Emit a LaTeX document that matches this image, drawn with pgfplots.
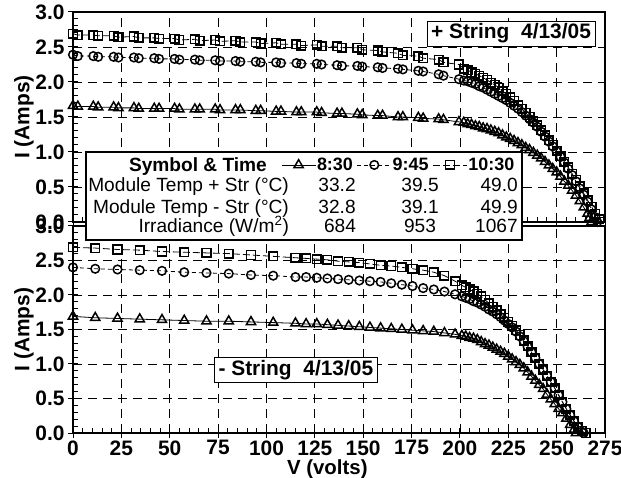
\documentclass[border=0pt]{standalone}
\usepackage{fontspec}
\setmainfont{Liberation Sans}
\usepackage{pgfplots}
\pgfplotsset{compat=1.18}

\newcommand{\tabfont}{\fontsize{19.2}{20}\selectfont}
\newcommand{\boxfont}{\fontsize{21}{22}\selectfont\bfseries}

\pgfplotsset{
  ivax/.style={
    scale only axis, width=532bp,
    xmin=0, xmax=275, ymin=0, ymax=3,
    xtick={0,25,...,275}, ytick={0,0.5,...,3},
    minor x tick num=4, minor y tick num=4,
    xtick pos=left, ytick pos=left,
    tick align=center,
    major tick length=10bp, minor tick length=5bp,
    minor x tick style={yshift=2.5bp},
    minor y tick style={xshift=2.5bp},
    tick style={black, line width=1bp},
    grid=major,
    major grid style={black, line width=0.8bp, dash pattern=on 9bp off 6bp},
    axis line style={black, line width=2bp},
    /pgf/number format/assume math mode=true,
    ticklabel style={font=\fontsize{21}{21}\selectfont\bfseries},
    yticklabel style={/pgf/number format/.cd, fixed, fixed zerofill, precision=1},
    xticklabel style={yshift=1bp},
    ylabel={I (Amps)},
    every axis y label/.style={at={(axis description cs:-0.092,0.5)}, rotate=90, anchor=center, font=\boxfont},
    clip=false,
  },
  tri/.style={black, line width=0.8bp, mark=triangle, mark size=5.3bp, mark options={solid, line width=1.5bp}},
  circ/.style={black, line width=0.8bp, dash pattern=on 4bp off 3bp, mark=o, mark size=4.3bp, mark options={solid, line width=1.5bp}},
  sq/.style={black, line width=0.8bp, dash pattern=on 7bp off 3bp, mark=square, mark size=4.3bp, mark options={solid, line width=1.5bp}},
}

\begin{document}
\begin{tikzpicture}
\useasboundingbox (0,0) rectangle (621bp,478bp);

% + string
\begin{axis}[ivax, at={(73bp,256bp)}, anchor=south west, height=210bp, xticklabels={}]
\addplot[tri] coordinates {
(0,1.66) (2.5,1.65) (10.5,1.65) (13,1.64) (21,1.64) (23.5,1.63) (31.5,1.63) (34,1.62) (42,1.62) (44.5,1.62)
(52.5,1.62) (55,1.61) (63,1.61) (65.5,1.61) (73.5,1.61) (76,1.60) (84,1.60) (86.5,1.60) (94.5,1.59) (97,1.59)
(105,1.58) (107.5,1.58) (115.5,1.57) (118,1.57) (126,1.57) (128.5,1.56) (136.5,1.55) (139,1.55) (147,1.54) (149.5,1.53)
(157.5,1.52) (160,1.52) (168,1.50) (170.5,1.50) (178.5,1.49) (181,1.48) (189,1.47) (191.5,1.46) (199.5,1.43) (202,1.42)
(204,1.40) (206,1.39) (208,1.37) (210,1.36) (212,1.34) (214,1.33) (216,1.31) (218,1.29) (220,1.27) (222,1.24)
(224,1.21) (226,1.19) (228,1.16) (230,1.13) (232,1.10) (234,1.06) (236,1.03) (238,0.99) (240,0.95) (242,0.91)
(244,0.86) (246,0.81) (248,0.76) (250,0.71) (252,0.65) (254,0.58) (256,0.52) (258,0.45) (260,0.38) (262,0.30)
(264,0.21) (266,0.12) (267,0.06) (268,0)};
\addplot[circ] coordinates {
(0,2.39) (2.5,2.37) (10.5,2.37) (13,2.36) (21,2.36) (23.5,2.35) (31.5,2.35) (34,2.34) (42,2.34) (44.5,2.33)
(52.5,2.33) (55,2.32) (63,2.32) (65.5,2.31) (73.5,2.31) (76,2.30) (84,2.30) (86.5,2.29) (94.5,2.29) (97,2.28)
(105,2.28) (107.5,2.27) (115.5,2.27) (118,2.26) (126,2.26) (128.5,2.25) (136.5,2.24) (139,2.23) (147,2.23) (149.5,2.22)
(157.5,2.21) (160,2.20) (168,2.19) (170.5,2.18) (178.5,2.16) (181,2.15) (189,2.11) (191.5,2.09) (199.5,2.04) (202,2.02)
(204,2.01) (206,1.99) (208,1.97) (210,1.94) (212,1.92) (214,1.89) (216,1.86) (218,1.83) (220,1.80) (222,1.77)
(224,1.74) (226,1.70) (228,1.66) (230,1.62) (232,1.57) (234,1.52) (236,1.47) (238,1.42) (240,1.36) (242,1.29)
(244,1.22) (246,1.15) (248,1.08) (250,1.01) (252,0.93) (254,0.85) (256,0.76) (258,0.67) (260,0.58) (262,0.48)
(264,0.39) (266,0.29) (268,0.18) (270,0.07) (271,0)};
\addplot[sq] coordinates {
(0,2.69) (2.5,2.67) (10.5,2.67) (13,2.66) (21,2.66) (23.5,2.64) (31.5,2.65) (34,2.63) (42,2.63) (44.5,2.62)
(52.5,2.62) (55,2.60) (63,2.61) (65.5,2.59) (73.5,2.60) (76,2.58) (84,2.59) (86.5,2.57) (94.5,2.57) (97,2.55)
(105,2.56) (107.5,2.54) (115.5,2.54) (118,2.52) (126,2.53) (128.5,2.51) (136.5,2.51) (139,2.49) (147,2.49) (149.5,2.46)
(157.5,2.45) (160,2.43) (168,2.41) (170.5,2.38) (178.5,2.37) (181,2.34) (189,2.32) (191.5,2.28) (199.5,2.25) (202,2.19)
(204,2.17) (206,2.14) (208,2.12) (210,2.09) (212,2.06) (214,2.03) (216,1.99) (218,1.96) (220,1.92) (222,1.87)
(224,1.83) (226,1.78) (228,1.73) (230,1.67) (232,1.62) (234,1.56) (236,1.50) (238,1.44) (240,1.38) (242,1.31)
(244,1.24) (246,1.17) (248,1.10) (250,1.02) (252,0.94) (254,0.86) (256,0.78) (258,0.69) (260,0.60) (262,0.51)
(264,0.41) (266,0.31) (268,0.22) (270,0.12) (272,0.04) (273,0)};
\node[draw, fill=white, line width=0.8bp, font=\boxfont, inner xsep=4bp, inner ysep=3bp, text height=15bp, text depth=4bp]
  at (axis cs:226.4,2.693) {+ String\ \ 4/13/05};
\end{axis}

% - string
\begin{axis}[ivax, at={(73bp,45bp)}, anchor=south west, height=207bp,
  xlabel={V (volts)},
  every axis x label/.style={at={(axis description cs:0.478,0)}, anchor=base, yshift=-41.5bp, font=\fontsize{20.5}{21}\selectfont\bfseries},
  legend columns=3,
  legend cell align=left,
  legend image code/.code={\draw[mark repeat=2,mark phase=2,#1] plot coordinates {(0bp,0bp)(17bp,0bp)(34bp,0bp)};},
  legend style={at={(0.391,1.295)}, anchor=west, draw=none, fill=none,
    font=\fontsize{18}{18}\selectfont\bfseries, inner xsep=0pt, inner ysep=0pt,
    nodes={inner xsep=1bp, inner ysep=1bp},
    /tikz/every even column/.append style={column sep=3bp}},
]
\addplot[tri] coordinates {
(0,1.69) (11.5,1.67) (23,1.66) (34.5,1.65) (46,1.64) (57.5,1.63) (69,1.62) (80.5,1.62) (92,1.61) (103.5,1.60)
(115,1.59) (120.5,1.58) (126,1.58) (131.5,1.57) (137,1.56) (142.5,1.55) (148,1.54) (153.5,1.53) (159,1.52) (164.5,1.51)
(170,1.50) (175.5,1.49) (181,1.48) (186.5,1.47) (192,1.45) (197.5,1.43) (201,1.41) (203,1.40) (205,1.38) (207,1.37)
(209,1.35) (211,1.32) (213,1.29) (215,1.27) (217,1.24) (219,1.21) (221,1.18) (223,1.15) (225,1.11) (227,1.07)
(229,1.03) (231,0.99) (233,0.94) (235,0.88) (237,0.82) (239,0.76) (241,0.70) (243,0.64) (245,0.56) (247,0.49)
(249,0.42) (251,0.35) (253,0.29) (255,0.21) (257,0.12) (259,0.05) (260,0)};
\addlegendentry{8:30}
\addplot[circ] coordinates {
(0,2.40) (11.5,2.38) (23,2.37) (34.5,2.36) (46,2.35) (57.5,2.33) (69,2.32) (80.5,2.31) (92,2.29) (103.5,2.28)
(115,2.26) (120.5,2.26) (126,2.25) (131.5,2.24) (137,2.23) (142.5,2.22) (148,2.21) (153.5,2.20) (159,2.19) (164.5,2.17)
(170,2.15) (175.5,2.13) (181,2.10) (186.5,2.08) (192,2.05) (197.5,2.01) (201,1.98) (203,1.96) (205,1.94) (207,1.91)
(209,1.89) (211,1.86) (213,1.83) (215,1.79) (217,1.76) (219,1.72) (221,1.68) (223,1.63) (225,1.58) (227,1.53)
(229,1.47) (231,1.40) (233,1.33) (235,1.25) (237,1.17) (239,1.09) (241,1.00) (243,0.92) (245,0.83) (247,0.74)
(249,0.65) (251,0.55) (253,0.45) (255,0.35) (257,0.26) (259,0.17) (261,0.09) (263,0.02) (264,0)};
\addlegendentry{9:45}
\addplot[sq] coordinates {
(0,2.69) (11.5,2.68) (23,2.66) (34.5,2.65) (46,2.63) (57.5,2.62) (69,2.61) (80.5,2.60) (92,2.58) (103.5,2.56)
(115,2.54) (120.5,2.53) (126,2.52) (131.5,2.51) (137,2.49) (142.5,2.48) (148,2.47) (153.5,2.45) (159,2.43) (164.5,2.42)
(170,2.40) (175.5,2.38) (181,2.36) (186.5,2.33) (192,2.28) (197.5,2.20) (201,2.14) (203,2.11) (205,2.08) (207,2.05)
(209,2.02) (211,1.98) (213,1.93) (215,1.88) (217,1.83) (219,1.78) (221,1.72) (223,1.67) (225,1.61) (227,1.55)
(229,1.49) (231,1.42) (233,1.34) (235,1.26) (237,1.17) (239,1.09) (241,1.00) (243,0.92) (245,0.83) (247,0.74)
(249,0.65) (251,0.55) (253,0.45) (255,0.35) (257,0.26) (259,0.17) (261,0.09) (263,0.03) (265,0)};
\addlegendentry{10:30}
\node[draw, fill=white, line width=0.8bp, font=\boxfont, inner xsep=4bp, inner ysep=3bp, text height=15bp, text depth=4bp]
  at (axis cs:115.2,0.920) {- String\ \ 4/13/05};
% table
\draw[black, line width=1.2bp, fill=white] (axis cs:6.7,2.797) rectangle (axis cs:232.1,4.072);
\node[anchor=base east, font=\tabfont\bfseries, inner sep=0pt] at (axis cs:100.3,3.783) {Symbol \& Time};
\node[anchor=base east, font=\tabfont, inner sep=0pt] at (axis cs:111.7,3.493) {Module Temp + Str (°C)};
\node[anchor=base east, font=\tabfont, inner sep=0pt] at (axis cs:111.7,3.188) {Module Temp - Str (°C)};
\node[anchor=base east, font=\tabfont, inner sep=0pt] at (axis cs:111.7,2.899) {Irradiance (W/m\textsuperscript{2})};
\node[anchor=base, font=\tabfont, inner sep=0pt] at (axis cs:136.5,3.493) {33.2};
\node[anchor=base, font=\tabfont, inner sep=0pt] at (axis cs:179.4,3.493) {39.5};
\node[anchor=base east, font=\tabfont, inner sep=0pt] at (axis cs:230.0,3.493) {49.0};
\node[anchor=base, font=\tabfont, inner sep=0pt] at (axis cs:136.5,3.188) {32.8};
\node[anchor=base, font=\tabfont, inner sep=0pt] at (axis cs:179.4,3.188) {39.1};
\node[anchor=base east, font=\tabfont, inner sep=0pt] at (axis cs:230.0,3.188) {49.9};
\node[anchor=base, font=\tabfont, inner sep=0pt] at (axis cs:138.0,2.899) {684};
\node[anchor=base, font=\tabfont, inner sep=0pt] at (axis cs:179.4,2.899) {953};
\node[anchor=base east, font=\tabfont, inner sep=0pt] at (axis cs:230.0,2.899) {1067};
\end{axis}
\end{tikzpicture}
\end{document}
